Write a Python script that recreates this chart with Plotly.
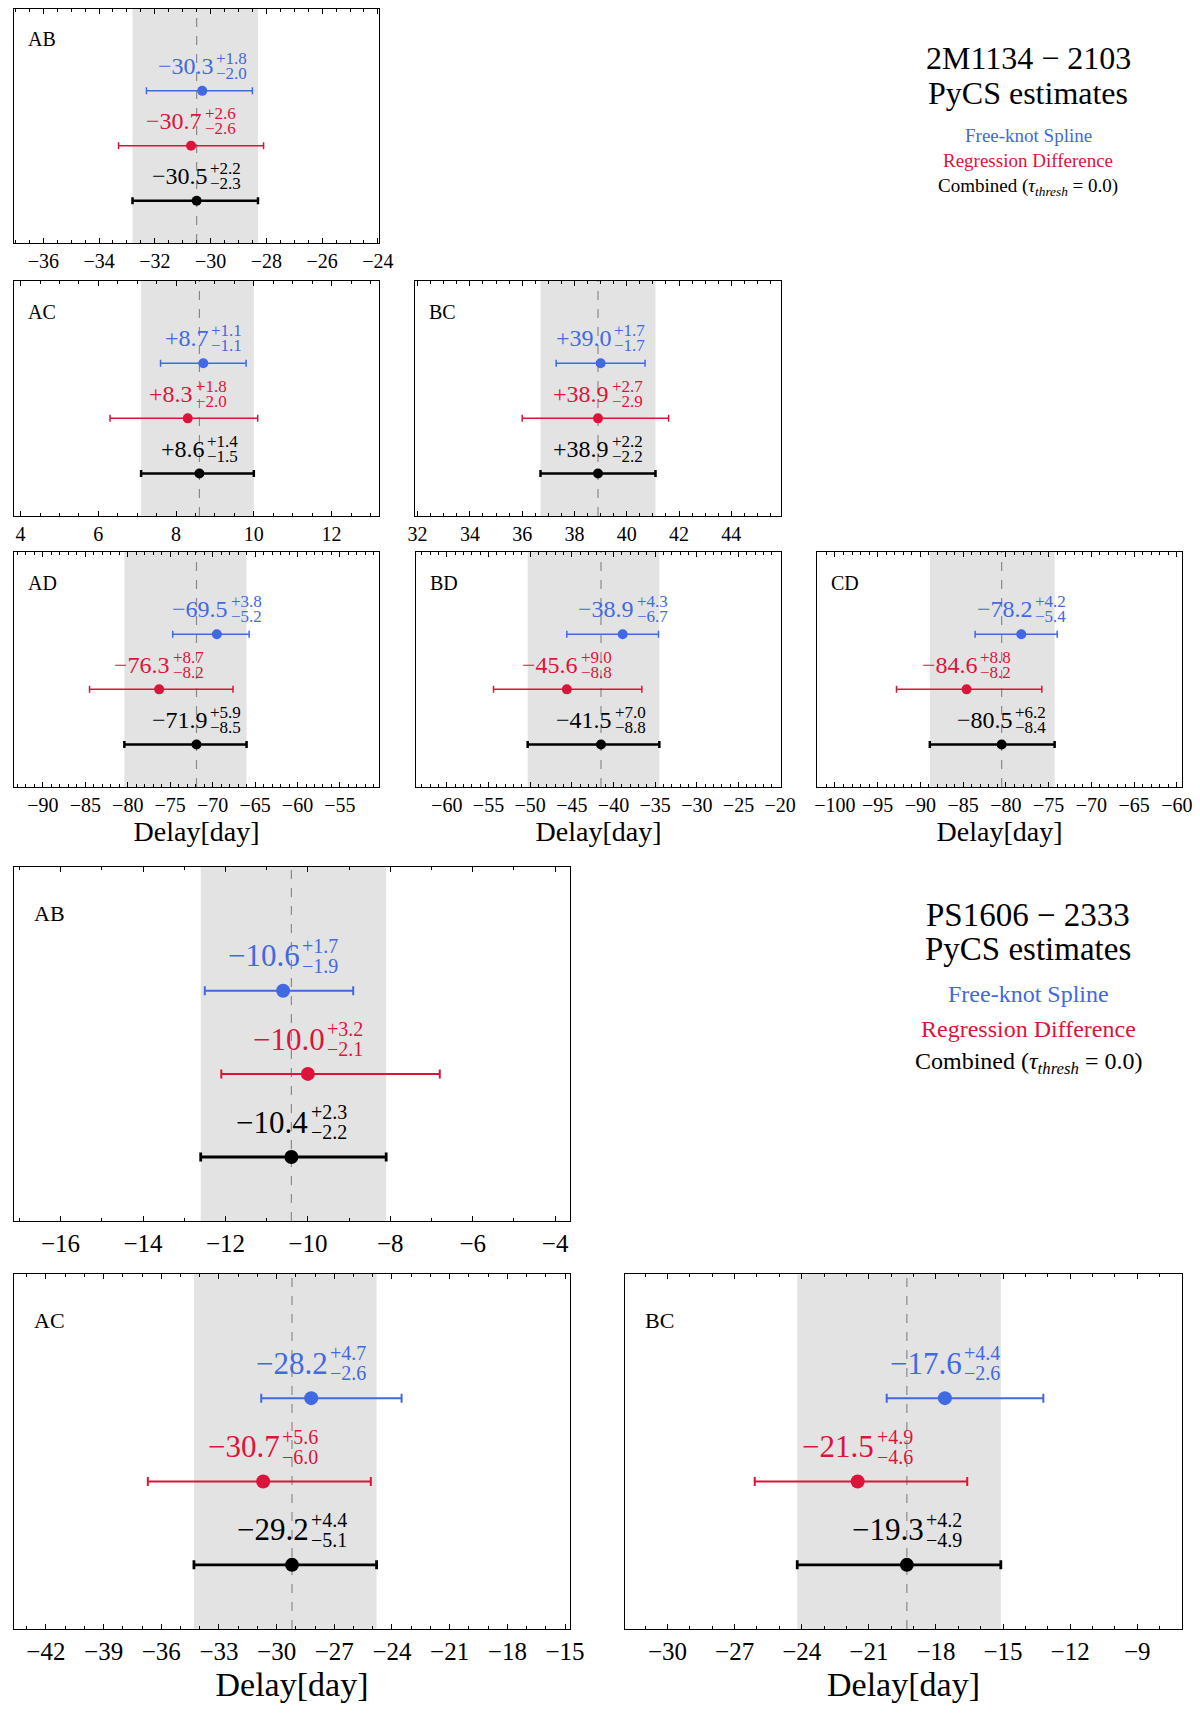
import plotly.graph_objects as go

# ---------------- data ----------------
pairs_2m = ["AB", "AC", "BC", "AD", "BD", "CD"]
fks_2m_val = [-30.3, 8.7, 39.0, -69.5, -38.9, -78.2]
fks_2m_up = [1.8, 1.1, 1.7, 3.8, 4.3, 4.2]
fks_2m_lo = [2.0, 1.1, 1.7, 5.2, 6.7, 5.4]
rd_2m_val = [-30.7, 8.3, 38.9, -76.3, -45.6, -84.6]
rd_2m_up = [2.6, 1.8, 2.7, 8.7, 9.0, 8.8]
rd_2m_lo = [2.6, 2.0, 2.9, 8.2, 8.8, 8.2]
comb_2m_val = [-30.5, 8.6, 38.9, -71.9, -41.5, -80.5]
comb_2m_up = [2.2, 1.4, 2.2, 5.9, 7.0, 6.2]
comb_2m_lo = [2.3, 1.5, 2.2, 8.5, 8.8, 8.4]

pairs_ps = ["AB", "AC", "BC"]
fks_ps_val = [-10.6, -28.2, -17.6]
fks_ps_up = [1.7, 4.7, 4.4]
fks_ps_lo = [1.9, 2.6, 2.6]
rd_ps_val = [-10.0, -30.7, -21.5]
rd_ps_up = [3.2, 5.6, 4.9]
rd_ps_lo = [2.1, 6.0, 4.6]
comb_ps_val = [-10.4, -29.2, -19.3]
comb_ps_up = [2.3, 4.4, 4.2]
comb_ps_lo = [2.2, 5.1, 4.9]

lens_names = ["2M1134 − 2103", "PS1606 − 2333"]
method_names = ["Free-knot Spline", "Regression Difference", "Combined"]
xlabel = "Delay[day]"

# ---------------- style / layout ----------------
OFF = 8                      # browser body margin
PW, PH = 1200, 1714          # page size
W, H = PW - OFF, PH - OFF    # figure size
FONT = "Liberation Serif"
BLUE, RED, BLACK = "#4169E1", "#DC143C", "#000000"
BAND = "#e3e3e3"


def px(xp):
    return (xp - OFF) / W


def py(yp):
    return 1 - (yp - OFF) / H


# panel geometry in page px: (left, right, top, bottom)
geo_2m = [(14, 379, 9, 243), (14, 379, 281, 516), (415, 781, 281, 516),
          (14, 379, 552, 787), (416, 781, 552, 787), (817, 1182, 552, 787)]
rng_2m = [(-37.05, -23.96), (3.83, 13.22), (31.9, 45.9),
          (-93.4, -50.4), (-63.7, -19.9), (-102.1, -59.4)]
dt_2m = [(2, 0.5), (2, 0.5), (2, 0.5), (5, 1), (5, 1), (5, 1)]
xl_2m = [False, False, False, True, True, True]

geo_ps = [(14, 570, 867, 1221), (14, 570, 1274, 1629), (625, 1182, 1274, 1629)]
rng_ps = [(-17.13, -3.64), (-43.66, -14.74), (-31.9, -7.0)]
dt_ps = [(2, 1), (3, 1), (3, 1)]
xl_ps = [False, True, True]

small = dict(tick=20, main=24, script=17, label=20, marker=10, thin=1.5, thick=2.5,
             cap=3.5, sshift=7.5, xtitle=28, standoff=6, dy=0.45)
large = dict(tick=25, main=31, script=20, label=22, marker=14, thin=2.0, thick=2.8,
             cap=4.5, sshift=10, xtitle=34, standoff=8, dy=0.42)

panels = []
for i in range(len(pairs_2m)):
    panels.append(dict(pair=pairs_2m[i], geo=geo_2m[i], rng=rng_2m[i], dt=dt_2m[i], xl=xl_2m[i], st=small,
                       est=[(fks_2m_val[i], fks_2m_up[i], fks_2m_lo[i]),
                            (rd_2m_val[i], rd_2m_up[i], rd_2m_lo[i]),
                            (comb_2m_val[i], comb_2m_up[i], comb_2m_lo[i])]))
for i in range(len(pairs_ps)):
    panels.append(dict(pair=pairs_ps[i], geo=geo_ps[i], rng=rng_ps[i], dt=dt_ps[i], xl=xl_ps[i], st=large,
                       est=[(fks_ps_val[i], fks_ps_up[i], fks_ps_lo[i]),
                            (rd_ps_val[i], rd_ps_up[i], rd_ps_lo[i]),
                            (comb_ps_val[i], comb_ps_up[i], comb_ps_lo[i])]))

colors = [BLUE, RED, BLACK]
ypos = [3, 2, 1]
YR = [0.23, 4.49]

CW = {"−": 0.564, "+": 0.564, ".": 0.25}


def strw(s, size):
    return sum(CW.get(c, 0.5) for c in s) * size


def sval(v):
    return ("+" if v > 0 else "−") + f"{abs(v):.1f}"


fig = go.Figure()
layout = dict(width=W, height=H, margin=dict(l=0, r=0, t=0, b=0),
              paper_bgcolor="white", plot_bgcolor="white",
              font=dict(family=FONT, color="black"), showlegend=False)
shapes, annotations = [], []

for n, p in enumerate(panels):
    ax = n + 1
    xs = "" if ax == 1 else str(ax)
    xref, yref = "x" + xs, "y" + xs
    l, r, t, b = p["geo"]
    st = p["st"]
    xa = dict(
        domain=[px(l), px(r)], anchor=yref, range=list(p["rng"]), dtick=p["dt"][0], tick0=0,
        ticks="inside", ticklen=5, tickwidth=1, tickcolor="black", mirror="allticks",
        showline=True, linecolor="black", linewidth=1.2, showgrid=False, zeroline=False,
        tickfont=dict(family=FONT, size=st["tick"], color="black"),
        minor=dict(dtick=p["dt"][1], tick0=0, ticks="inside", ticklen=2.5, tickcolor="black", showgrid=False),
        automargin=False, fixedrange=True)
    if p["xl"]:
        xa["title"] = dict(text=xlabel, font=dict(family=FONT, size=st["xtitle"]), standoff=st["standoff"])
    layout["xaxis" + xs] = xa
    layout["yaxis" + xs] = dict(
        domain=[py(b), py(t)], anchor=xref, range=YR, showticklabels=False, ticks="",
        showline=True, mirror=True, linecolor="black", linewidth=1.2, showgrid=False,
        zeroline=False, automargin=False, fixedrange=True)

    cval, cup, clo = p["est"][2]
    shapes.append(dict(type="rect", xref=xref, yref=yref + " domain", x0=cval - clo, x1=cval + cup,
                       y0=0, y1=1, fillcolor=BAND, line=dict(width=0), layer="below"))
    shapes.append(dict(type="line", xref=xref, yref=yref + " domain", x0=cval, x1=cval, y0=0, y1=1,
                       line=dict(color="#8a8a8a", width=1.2, dash="dash"), layer="below"))

    annotations.append(dict(text=p["pair"], xref=xref + " domain", yref=yref + " domain",
                            x=0.033, y=0.87, xanchor="left", yanchor="middle", showarrow=False,
                            font=dict(family=FONT, size=st["label"], color="black")))

    for k in range(3):
        v, up, lo = p["est"][k]
        col = colors[k]
        fig.add_trace(go.Scatter(
            x=[v], y=[ypos[k]], mode="markers", xaxis=xref, yaxis=yref,
            marker=dict(color=col, size=st["marker"]),
            error_x=dict(type="data", symmetric=False, array=[up], arrayminus=[lo], color=col,
                         thickness=st["thick"] if k == 2 else st["thin"], width=st["cap"]),
            hoverinfo="skip"))
        main = sval(v)
        sup = "+" + f"{up:.1f}"
        sub = "−" + f"{lo:.1f}"
        w1 = strw(main, st["main"])
        w2 = max(strw(sup, st["script"]), strw(sub, st["script"]))
        shift = (w1 - w2) / 2
        ty = ypos[k] + st["dy"]
        annotations.append(dict(text=main, x=v, y=ty, xref=xref, yref=yref, xanchor="right",
                                yanchor="middle", xshift=shift, showarrow=False, borderpad=0,
                                font=dict(family=FONT, size=st["main"], color=col)))
        annotations.append(dict(text=sup, x=v, y=ty, xref=xref, yref=yref, xanchor="left",
                                yanchor="middle", xshift=shift + 0.5, yshift=st["sshift"], showarrow=False,
                                borderpad=0, font=dict(family=FONT, size=st["script"], color=col)))
        annotations.append(dict(text=sub, x=v, y=ty, xref=xref, yref=yref, xanchor="left",
                                yanchor="middle", xshift=shift + 0.5, yshift=-st["sshift"], showarrow=False,
                                borderpad=0, font=dict(family=FONT, size=st["script"], color=col)))

# titles and legend texts
title_blocks = [
    dict(name=lens_names[0], yt=58, ys=93, leg=[135, 161, 187], tsize=32, lsize=19),
    dict(name=lens_names[1], yt=915, ys=949, leg=[994, 1029, 1063], tsize=33, lsize=24),
]
XC = 1028
for tb in title_blocks:
    annotations.append(dict(text=tb["name"], xref="paper", yref="paper", x=px(XC), y=py(tb["yt"]),
                            xanchor="center", yanchor="middle", showarrow=False,
                            font=dict(family=FONT, size=tb["tsize"], color="black")))
    annotations.append(dict(text="PyCS estimates", xref="paper", yref="paper", x=px(XC), y=py(tb["ys"]),
                            xanchor="center", yanchor="middle", showarrow=False,
                            font=dict(family=FONT, size=tb["tsize"], color="black")))
    texts = [method_names[0], method_names[1],
             method_names[2] + " (<i>τ<sub>thresh</sub></i> = 0.0)"]
    for k in range(3):
        annotations.append(dict(text=texts[k], xref="paper", yref="paper", x=px(XC), y=py(tb["leg"][k]),
                                xanchor="center", yanchor="middle", showarrow=False,
                                font=dict(family=FONT, size=tb["lsize"], color=colors[k])))

layout["shapes"] = shapes
layout["annotations"] = annotations
fig.update_layout(**layout)
fig.write_html("out.html")
